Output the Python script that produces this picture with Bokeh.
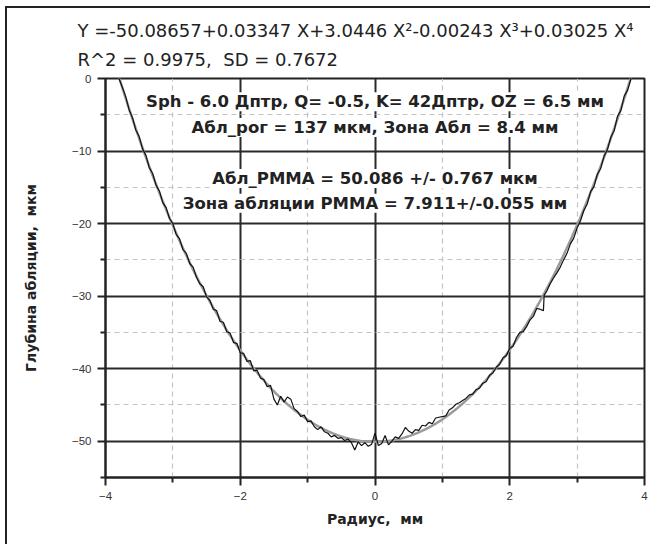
import numpy as np
from bokeh.plotting import figure
from bokeh.models import Label, FixedTicker, Range1d, Title
from bokeh.embed import file_html
from bokeh.resources import INLINE

# Measured ablation profile: radius (mm) and depth (um)
radius = [
    -3.80, -3.75, -3.70, -3.65, -3.60, -3.55, -3.50, -3.45, -3.40, -3.35,
    -3.30, -3.25, -3.20, -3.15, -3.10, -3.05, -3.00, -2.95, -2.90, -2.85,
    -2.80, -2.75, -2.70, -2.65, -2.60, -2.55, -2.50, -2.45, -2.40, -2.35,
    -2.30, -2.25, -2.20, -2.15, -2.10, -2.05, -2.00, -1.95, -1.90, -1.85,
    -1.80, -1.75, -1.70, -1.65, -1.60, -1.55, -1.50, -1.45, -1.40, -1.35,
    -1.30, -1.25, -1.20, -1.15, -1.10, -1.05, -1.00, -0.95, -0.90, -0.85,
    -0.80, -0.75, -0.70, -0.65, -0.60, -0.55, -0.50, -0.45, -0.40, -0.35,
    -0.30, -0.25, -0.20, -0.15, -0.10, -0.05, 0.00, 0.05, 0.10, 0.15,
    0.20, 0.25, 0.30, 0.35, 0.40, 0.45, 0.50, 0.55, 0.60, 0.65,
    0.70, 0.75, 0.80, 0.85, 0.90, 0.95, 1.00, 1.05, 1.10, 1.15,
    1.20, 1.25, 1.30, 1.35, 1.40, 1.45, 1.50, 1.55, 1.60, 1.65,
    1.70, 1.75, 1.80, 1.85, 1.90, 1.95, 2.00, 2.05, 2.10, 2.15,
    2.20, 2.25, 2.30, 2.35, 2.40, 2.45, 2.50, 2.51, 2.55, 2.60,
    2.65, 2.70, 2.75, 2.80, 2.85, 2.90, 2.95, 3.00, 3.05, 3.10,
    3.15, 3.20, 3.25, 3.30, 3.35, 3.40, 3.45, 3.50, 3.55, 3.60,
    3.65, 3.70, 3.75, 3.80,
]
depth = [
    0.0, -1.2, -2.5, -4.3, -5.4, -7.1, -8.0, -9.7, -10.6, -12.3,
    -13.1, -14.7, -15.5, -17.1, -17.8, -19.3, -20.0, -21.5, -22.1, -23.6,
    -24.1, -25.5, -26.0, -27.4, -28.3, -28.7, -30.1, -30.6, -31.8, -32.0,
    -33.5, -33.6, -34.9, -35.1, -36.4, -36.5, -37.8, -37.9, -39.0, -38.9,
    -40.3, -40.2, -41.3, -41.5, -42.5, -42.3, -44.2, -45.0, -43.8, -44.6,
    -43.9, -44.2, -45.5, -45.9, -46.6, -46.4, -47.3, -47.2, -48.0, -48.4,
    -48.0, -48.7, -48.9, -49.4, -49.2, -49.6, -49.5, -49.9, -49.7, -50.2,
    -51.2, -50.1, -50.6, -50.2, -50.7, -50.4, -48.9, -50.6, -50.3, -49.2,
    -50.5, -50.0, -49.4, -49.6, -49.0, -48.1, -48.6, -48.9, -48.4, -48.5,
    -47.8, -47.9, -47.4, -47.6, -46.8, -46.7, -46.6, -46.5, -45.7, -45.4,
    -44.9, -44.7, -44.4, -44.1, -43.6, -43.5, -42.9, -42.7, -42.0, -41.8,
    -40.9, -40.6, -39.8, -39.4, -38.5, -38.2, -37.2, -36.9, -35.7, -35.0,
    -34.9, -34.2, -33.3, -32.8, -31.7, -31.8, -32.0, -29.9, -29.3, -28.3,
    -27.5, -26.8, -26.0, -25.0, -24.1, -22.8, -22.0, -20.6, -19.6, -18.2,
    -17.3, -15.6, -14.9, -13.2, -12.4, -10.7, -9.8, -8.1, -7.2, -5.2,
    -4.4, -2.4, -1.6, 0.0,
]

# Polynomial fit coefficients (c0 .. c4)
fit_coef = [-50.08657, 0.03347, 3.0446, -0.00243, 0.03025]

x_major = [-4, -2, 0, 2, 4]
x_minor = [-3, -1, 1, 3]
y_major = [0, -10, -20, -30, -40, -50]
y_minor = [-5, -15, -25, -35, -45, -55]

fit_x = np.linspace(-3.95, 3.95, 400)
fit_y = sum(c * fit_x ** k for k, c in enumerate(fit_coef))

FONT = "Liberation Sans"
WIDE = "DejaVu Sans"
NB = "\u00a0"

p = figure(width=645, height=538, output_backend="svg", toolbar_location=None,
           x_range=Range1d(-4, 4), y_range=Range1d(-55, 0),
           min_border_left=98, min_border_right=8, min_border_top=70,
           min_border_bottom=69, title=None)
p.styles = {"margin-left": "5px", "margin-top": "6px",
            "border-left": "2px solid #222", "border-top": "2px solid #222"}

p.outline_line_color = "#222222"
p.outline_line_width = 2
p.background_fill_color = "white"
p.border_fill_color = "white"

for ax, major, minor in ((p.xaxis[0], x_major, x_minor), (p.yaxis[0], y_major, y_minor)):
    ax.ticker = FixedTicker(ticks=major, minor_ticks=minor)
    ax.axis_line_color = "#222222"
    ax.axis_line_width = 2
    ax.major_tick_line_color = "#222222"
    ax.major_tick_line_width = 2
    ax.major_tick_out = 8
    ax.major_tick_in = 0
    ax.minor_tick_line_color = "#222222"
    ax.minor_tick_line_width = 2
    ax.minor_tick_out = 5
    ax.minor_tick_in = 0
    ax.major_label_text_font = FONT
    ax.major_label_text_font_size = "11.5px"
    ax.major_label_text_color = "#333333"
    ax.axis_label_text_font = WIDE
    ax.axis_label_text_font_style = "bold"
    ax.axis_label_text_font_size = "14px"
    ax.axis_label_text_color = "#222222"

p.xaxis.axis_label = "Радиус," + NB + NB + "мм"
p.xaxis.major_label_standoff = 6
p.xaxis.axis_label_standoff = 8
p.yaxis.axis_label = "Глубина абляции," + NB + NB + "мкм"
p.yaxis.major_label_standoff = 6
p.yaxis.axis_label_standoff = 30

for g, major, minor in ((p.xgrid[0], x_major, x_minor), (p.ygrid[0], y_major, y_minor)):
    g.ticker = FixedTicker(ticks=major, minor_ticks=minor)
    g.grid_line_color = "#2a2a2a"
    g.grid_line_width = 2
    g.minor_grid_line_color = "#c4c4c4"
    g.minor_grid_line_width = 1.2
    g.minor_grid_line_dash = "5 4"

p.line(fit_x, fit_y, line_color="#9a9a9a", line_width=2.5)
p.line(radius, depth, line_color="#111111", line_width=1.2)

# Fit summary above the plot area: statistics nearest the frame, equation above it
p.add_layout(Title(text="R^2 = 0.9975," + NB + NB + "SD = 0.7672",
                   align="left", offset=-28, standoff=18,
                   text_font=WIDE, text_font_size="18px",
                   text_font_style="normal", text_color="#222222"), "above")
p.add_layout(Title(text="Y =-50.08657+0.03347 X+3.0446 X²-0.00243 X³+0.03025 X⁴",
                   align="left", offset=-28, standoff=-6,
                   text_font=WIDE, text_font_size="18px",
                   text_font_style="normal", text_color="#222222"), "above")

# Treatment parameters and results inside the plot
notes = [
    ("Sph - 6.0 Дптр, Q= -0.5, K= 42Дптр, OZ = 6.5 мм", -3.2),
    ("Абл_рог = 137 мкм, Зона Абл = 8.4 мм", -6.75),
    ("Абл_PMMA = 50.086 +/- 0.767 мкм", -13.8),
    ("Зона абляции PMMA = 7.911+/-0.055 мм", -17.2),
]
for txt, yv in notes:
    p.add_layout(Label(x=0, y=yv, text=txt, text_font=WIDE,
                       text_font_style="bold", text_font_size="16.5px",
                       text_color="#222222", text_align="center",
                       text_baseline="middle", background_fill_color="white"))

open("out.html", "w").write(file_html(p, INLINE))
